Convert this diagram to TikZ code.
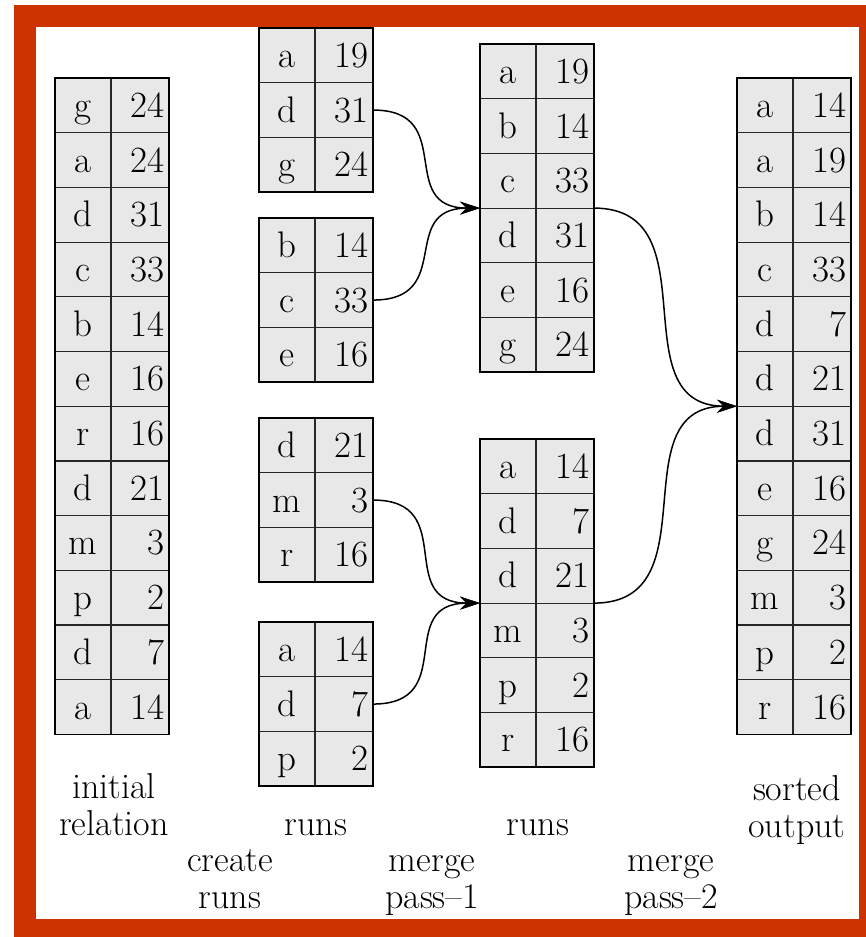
\documentclass[tikz,border=0pt]{standalone}
\usetikzlibrary{arrows.meta, positioning}

\definecolor{borderred}{RGB}{204,51,0}
\definecolor{cellgray}{RGB}{232,232,232}

% one block of key/value rows: name, left x, top y, number of rows, rows
\newcommand{\relblock}[5]{%
  \foreach \k/\v [count=\i] in {#5} {
    \node[keycell] (#1k\i) at (#2, #3+\i*54.7-54.7) {\k};
    \node[valcell, right=0pt of #1k\i] (#1v\i) {\v};
  }
  \draw[blockframe] (#1k1.north west) rectangle (#1v#4.south east);
}

\begin{document}
\begin{tikzpicture}[x=1pt, y=-1pt,
    font=\fontsize{36}{37}\selectfont,
    keycell/.style={draw=black!85, line width=1.2pt, fill=cellgray,
      anchor=north west, minimum width=56pt, minimum height=54.7pt,
      inner sep=0pt, outer sep=0pt, text height=24pt, text depth=0pt,
      font=\fontsize{37}{40}\selectfont},
    valcell/.style={draw=black!85, line width=1.2pt, fill=cellgray,
      minimum width=58pt, minimum height=54.7pt, text width=48pt,
      align=right, inner xsep=5pt, inner ysep=0pt, outer sep=0pt,
      text height=24pt, text depth=0pt, font=\fontsize{37}{40}\selectfont},
    blockframe/.style={line width=1.8pt},
    merge/.style={line width=1.5pt, -{Stealth[length=20pt, width=13pt]}},
    steplabel/.style={align=center, anchor=base}]

    \clip (0,0) rectangle (866,937);

    % Border
    \draw[borderred, line width=22pt] (25,16) rectangle (870,930);

    % Initial relation
    \relblock{rel}{55}{78}{12}{g/24, a/24, d/31, c/33, b/14, e/16,
      r/16, d/21, m/3, p/2, d/7, a/14}

    % Runs
    \relblock{runa}{259}{28}{3}{a/19, d/31, g/24}
    \relblock{runb}{259}{218}{3}{b/14, c/33, e/16}
    \relblock{runc}{259}{418}{3}{d/21, m/3, r/16}
    \relblock{rund}{259}{622}{3}{a/14, d/7, p/2}

    % Runs after pass 1
    \relblock{mrga}{480}{44}{6}{a/19, b/14, c/33, d/31, e/16, g/24}
    \relblock{mrgb}{480}{439}{6}{a/14, d/7, d/21, m/3, p/2, r/16}

    % Sorted output
    \relblock{outp}{737}{78}{12}{a/14, a/19, b/14, c/33, d/7, d/21,
      d/31, e/16, g/24, m/3, p/2, r/16}

    % Merge pass 1
    \draw[merge] (runav2.east) to[out=0, in=180, looseness=1.5] (mrgak3.south west);
    \draw[merge] (runbv2.east) to[out=0, in=180, looseness=1.5] (mrgak3.south west);
    \draw[merge] (runcv2.east) to[out=0, in=180, looseness=1.5] (mrgbk3.south west);
    \draw[merge] (rundv2.east) to[out=0, in=180, looseness=1.5] (mrgbk3.south west);

    % Merge pass 2
    \draw[merge] (mrgav3.south east) to[out=0, in=180, looseness=1.25] (outpk6.south west);
    \draw[merge] (mrgbv3.south east) to[out=0, in=180, looseness=1.25] (outpk6.south west);

    % Labels
    \node[steplabel] (lblrel) at (114,835) {initial\\relation};
    \node[steplabel] (lblruns) at (316,835) {runs};
    \node[steplabel] (lblmrg) at (538,835) {runs};
    \node[steplabel] (lblout) at (797,837) {sorted\\output};
    \node[steplabel] (lblcreate) at (230,908) {create\\runs};
    \node[steplabel] (lblpassa) at (432,908) {merge\\pass--1};
    \node[steplabel] (lblpassb) at (671,908) {merge\\pass--2};

\end{tikzpicture}
\end{document}
